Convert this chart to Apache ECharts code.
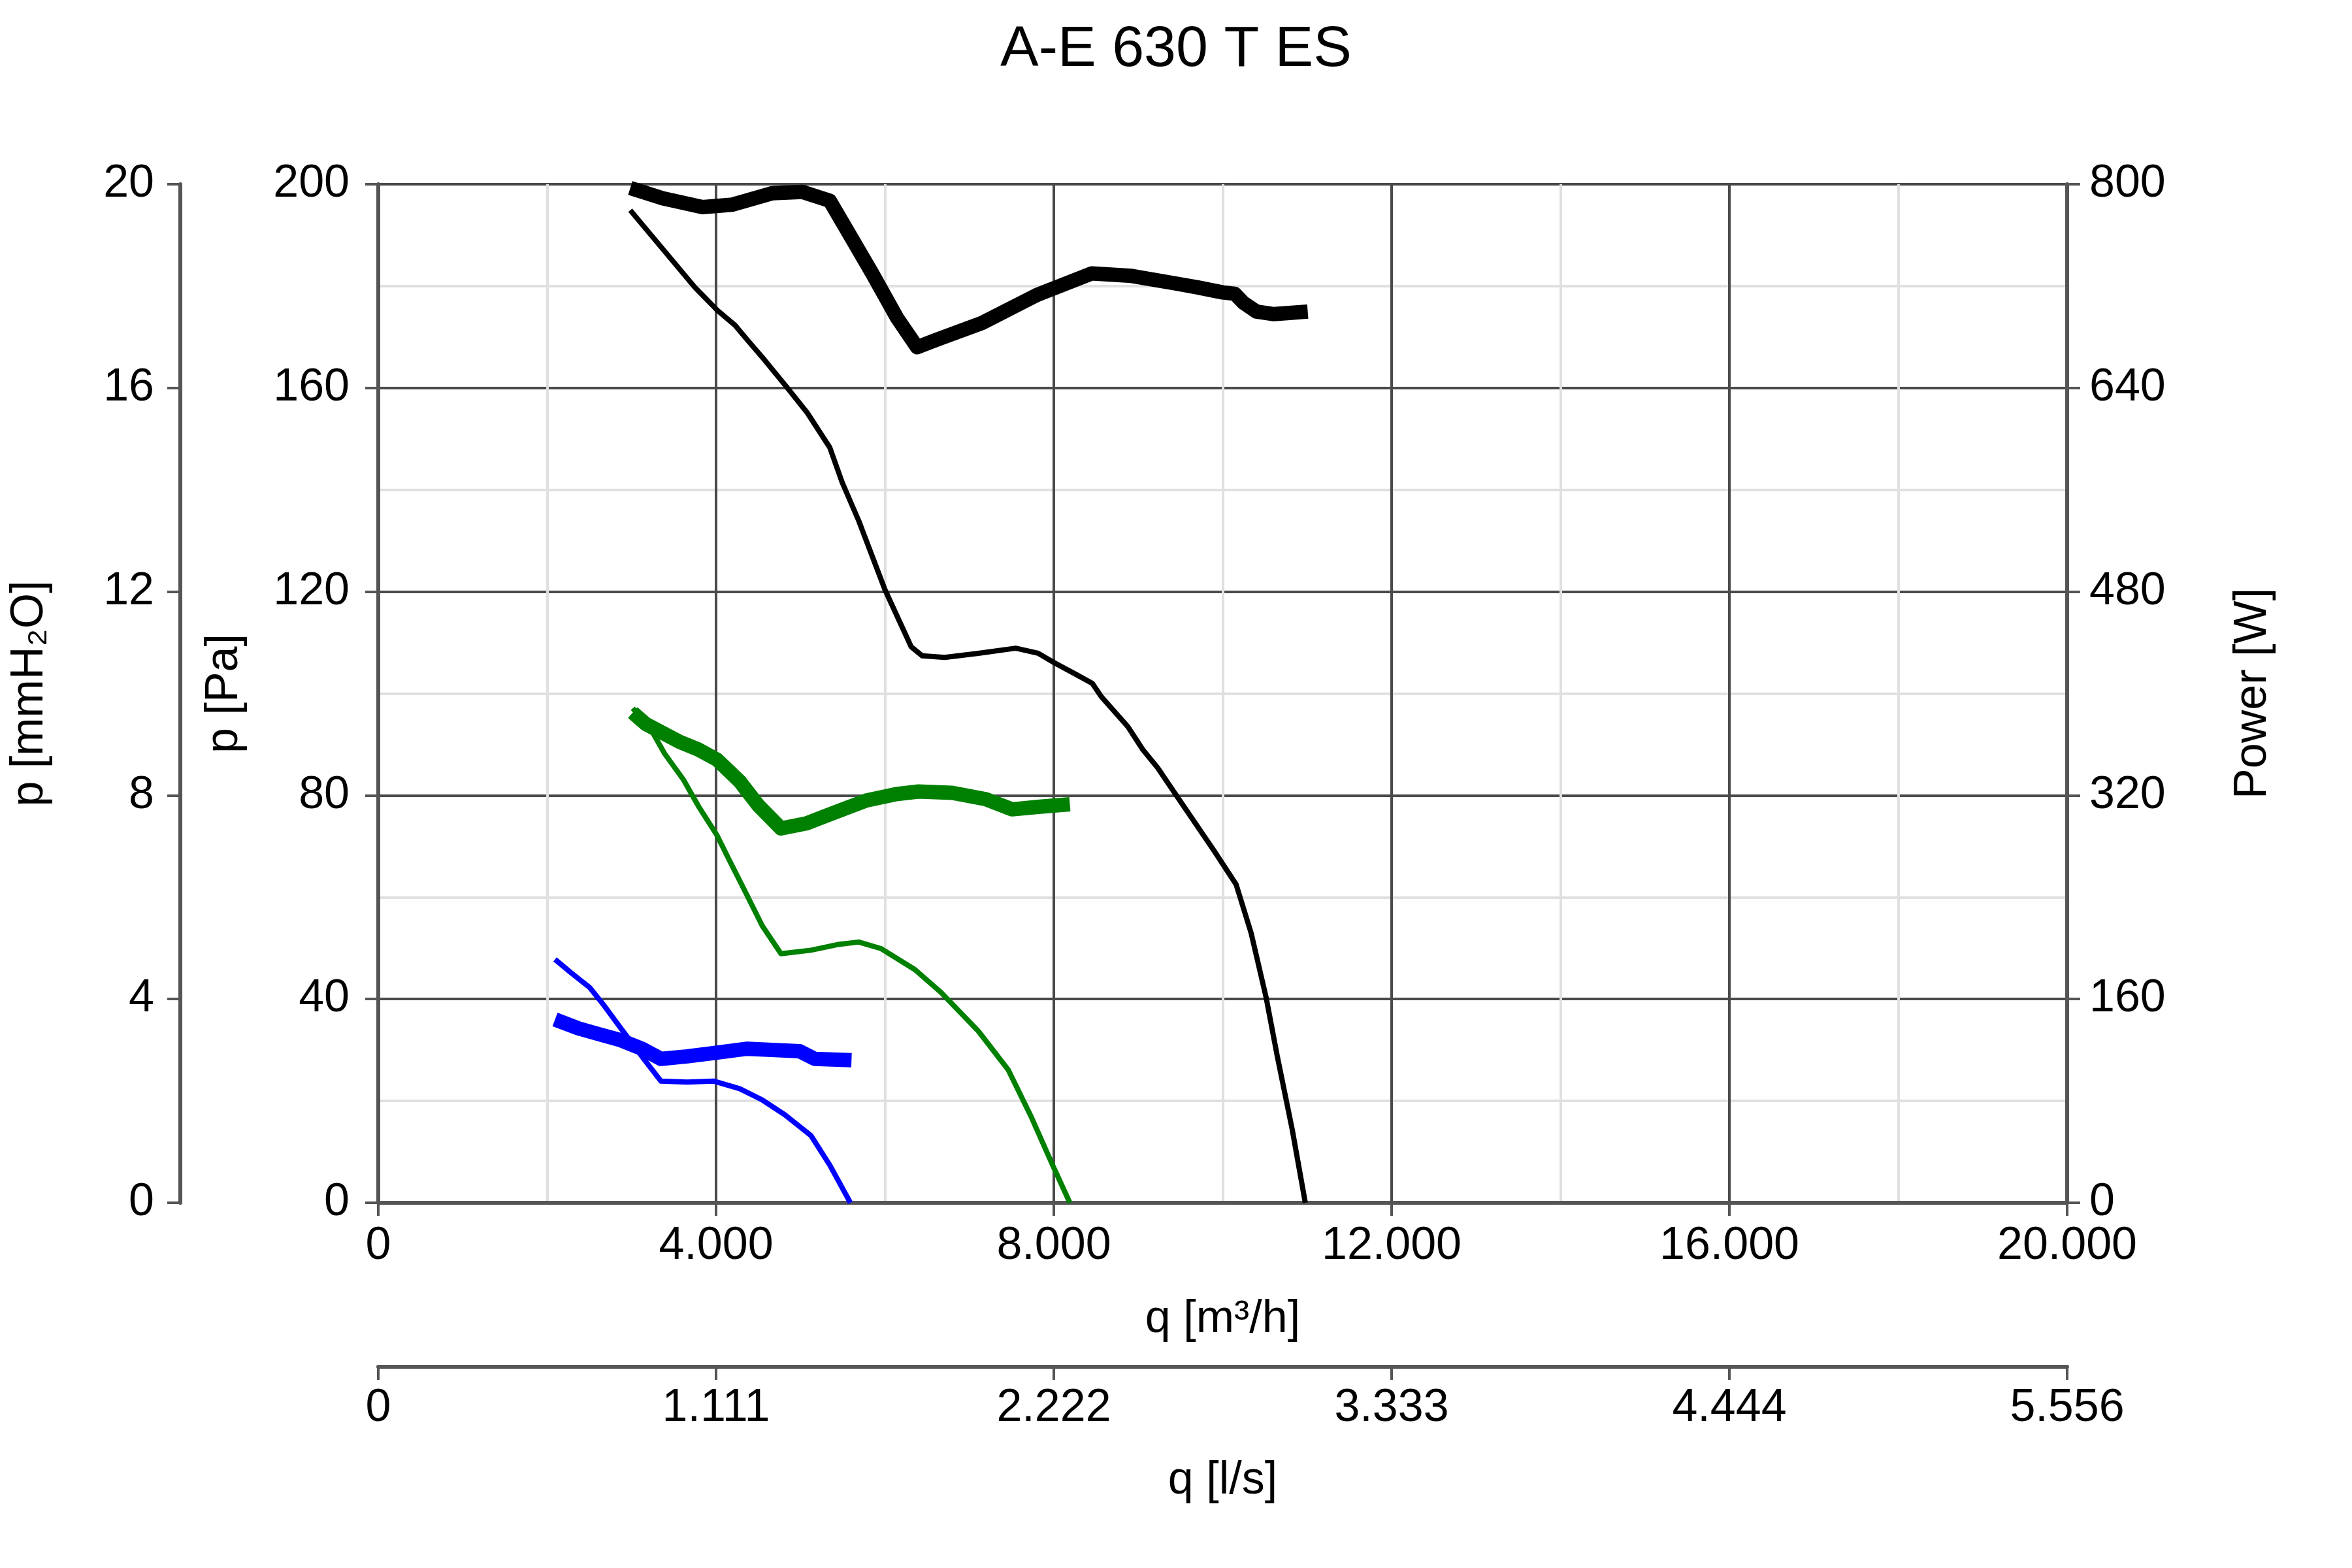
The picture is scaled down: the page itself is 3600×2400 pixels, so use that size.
<!DOCTYPE html>
<html>
<head>
<meta charset="utf-8">
<title>A-E 630 T ES</title>
<script src="https://cdn.jsdelivr.net/npm/echarts@6/dist/echarts.min.js"></script>
<style>
  html, body { margin: 0; padding: 0; background: #fff; }
  #chart { width: 3600px; height: 2400px; }
</style>
</head>
<body>
<div id="chart"></div>
<script>
// axis ticks
var qTicks = [0, 4000, 8000, 12000, 16000, 20000];
var paTicks = [0, 40, 80, 120, 160, 200];
var mmTicks = [0, 4, 8, 12, 16, 20];
var wTicks = [0, 160, 320, 480, 640, 800];

// black: pressure [Pa] (thin) and power [W] (thick)
var blackPQ = [2984, 3752, 4018, 4225, 4372, 4579, 4845, 5081, 5347, 5495, 5690, 6000, 6310, 6442, 6708, 7106, 7549, 7814, 8000, 8257, 8456, 8566, 8876, 9053, 9230, 9451, 9673, 9894, 10159, 10336, 10513, 10646, 10823, 10978];
var blackP  = [194.9, 179.7, 175.2, 172.3, 169.4, 165.4, 160.0, 155.1, 148.3, 141.4, 133.9, 120.4, 109.2, 107.4, 107.1, 107.9, 108.9, 107.9, 106.1, 103.8, 102.0, 99.3, 93.5, 89.0, 85.4, 80.0, 74.6, 69.2, 62.5, 53.0, 40.4, 28.8, 14.4, 0];
var blackWQ = [2984, 3368, 3840, 4195, 4668, 5022, 5347, 5550, 5849, 6144, 6381, 6617, 7149, 7799, 8449, 8922, 9447, 9702, 10001, 10143, 10244, 10399, 10607, 10816, 11007];
var blackW  = [797, 789, 782, 784, 793, 794, 787, 764, 730, 695, 672, 678, 691, 713, 730, 728, 722, 719, 715, 714, 707, 700, 698, 699, 700];

// green
var greenPQ = [3013, 3213, 3391, 3613, 3791, 4013, 4147, 4324, 4547, 4769, 5124, 5436, 5690, 5956, 6354, 6664, 7106, 7460, 7726, 7991, 8190];
var greenP  = [97.1, 93.4, 88.2, 83.1, 77.9, 72.1, 67.6, 61.8, 54.4, 48.9, 49.6, 50.7, 51.2, 49.9, 45.8, 41.3, 33.7, 26.1, 17.1, 7.2, 0];
var greenWQ = [3013, 3169, 3569, 3791, 4013, 4280, 4502, 4769, 5071, 5381, 5779, 6133, 6398, 6796, 7195, 7504, 7814, 8190];
var greenW  = [385, 376, 362, 356, 348, 331, 312, 294, 298, 306, 316, 321, 323, 322, 317, 309, 311, 313];

// blue
var bluePQ = [2093, 2280, 2502, 2680, 2858, 3124, 3347, 3658, 3969, 4280, 4547, 4813, 5124, 5347, 5591];
var blueP  = [47.8, 45.2, 42.3, 38.6, 34.6, 28.7, 23.9, 23.7, 23.9, 22.4, 20.2, 17.3, 13.2, 7.4, 0];
var blueWQ = [2093, 2369, 2636, 2858, 3124, 3347, 3658, 4013, 4369, 4991, 5169, 5604];
var blueW  = [144, 137, 132, 128, 121, 113, 115, 118, 121, 119, 113, 112];

function zip(a, b) {
    var out = [];
    for (var i = 0; i < a.length; i++) out.push([a[i], b[i]]);
    return out;
}
function step(t) { return t[1] - t[0]; }
function last(t) { return t[t.length - 1]; }

var FONT = 'Liberation Sans, Arial, sans-serif';
var AXIS = '#555';
var labelStyle = { color: '#000', fontSize: 70, fontFamily: FONT };
var nameStyle = { color: '#000', fontSize: 70, fontFamily: FONT };

function dotted(v) {
    // 4000 -> "4.000"
    var s = String(Math.round(v));
    return s.replace(/\B(?=(\d{3})+(?!\d))/g, '.');
}

function line(data, color, width, yIdx) {
    return {
        type: 'line',
        data: data,
        yAxisIndex: yIdx,
        xAxisIndex: 0,
        showSymbol: false,
        symbol: 'none',
        smooth: false,
        clip: true,
        lineStyle: { color: color, width: width, cap: 'butt', join: 'round' },
        z: 5
    };
}

var myChart = echarts.init(document.getElementById('chart'), null, { renderer: 'canvas' });

var option = {
    animation: false,
    backgroundColor: '#fff',
    title: {
        text: 'A-E 630 T ES',
        left: 'center',
        top: 28,
        textStyle: { color: '#000', fontSize: 88, fontWeight: 'normal', fontFamily: FONT }
    },
    grid: { left: 579, right: 436, top: 282, bottom: 559, containLabel: false },
    xAxis: [
        {
            type: 'value',
            position: 'bottom',
            min: qTicks[0], max: last(qTicks), interval: step(qTicks),
            name: 'q [m³/h]', nameLocation: 'middle', nameGap: 144,
            nameTextStyle: nameStyle,
            axisLine: { show: true, onZero: false, lineStyle: { color: AXIS, width: 6 } },
            axisTick: { show: true, length: 20, lineStyle: { color: AXIS, width: 4 } },
            axisLabel: Object.assign({ margin: 32, formatter: dotted }, labelStyle),
            splitLine: { show: true, lineStyle: { color: '#4a4a4a', width: 4 } },
            minorTick: { show: false, splitNumber: 2 },
            minorSplitLine: { show: true, lineStyle: { color: '#e0e0e0', width: 4 } }
        },
        {
            type: 'value',
            position: 'bottom',
            offset: 251,
            min: qTicks[0], max: last(qTicks), interval: step(qTicks),
            name: 'q [l/s]', nameLocation: 'middle', nameGap: 140,
            nameTextStyle: nameStyle,
            axisLine: { show: true, onZero: false, lineStyle: { color: AXIS, width: 6 } },
            axisTick: { show: true, length: 20, lineStyle: { color: AXIS, width: 4 } },
            axisLabel: Object.assign({
                margin: 29,
                formatter: function (v) { return v === 0 ? '0' : (v / 3600).toFixed(3); }
            }, labelStyle),
            splitLine: { show: false }
        }
    ],
    yAxis: [
        {
            type: 'value',
            position: 'left',
            min: paTicks[0], max: last(paTicks), interval: step(paTicks),
            name: 'p [Pa]', nameLocation: 'middle', nameGap: 200, nameRotate: 90,
            nameTextStyle: nameStyle,
            axisLine: { show: true, onZero: false, lineStyle: { color: AXIS, width: 6 } },
            axisTick: { show: true, length: 20, lineStyle: { color: AXIS, width: 4 } },
            axisLabel: Object.assign({ margin: 44 }, labelStyle),
            splitLine: { show: true, lineStyle: { color: '#4a4a4a', width: 4 } },
            minorTick: { show: false, splitNumber: 2 },
            minorSplitLine: { show: true, lineStyle: { color: '#e0e0e0', width: 4 } }
        },
        {
            type: 'value',
            position: 'left',
            offset: 303,
            min: mmTicks[0], max: last(mmTicks), interval: step(mmTicks),
            name: 'p [mmH₂O]', nameLocation: 'middle', nameGap: 195, nameRotate: 90,
            nameTextStyle: nameStyle,
            axisLine: { show: true, onZero: false, lineStyle: { color: AXIS, width: 6 } },
            axisTick: { show: true, length: 20, lineStyle: { color: AXIS, width: 4 } },
            axisLabel: Object.assign({ margin: 40 }, labelStyle),
            splitLine: { show: false }
        },
        {
            type: 'value',
            position: 'right',
            min: wTicks[0], max: last(wTicks), interval: step(wTicks),
            name: 'Power [W]', nameLocation: 'middle', nameGap: 250, nameRotate: 90,
            nameTextStyle: nameStyle,
            axisLine: { show: true, onZero: false, lineStyle: { color: AXIS, width: 6 } },
            axisTick: { show: true, length: 20, lineStyle: { color: AXIS, width: 4 } },
            axisLabel: Object.assign({ margin: 34 }, labelStyle),
            splitLine: { show: false }
        }
    ],
    series: [
        line(zip(blackPQ, blackP), '#000000', 8, 0),
        line(zip(blackWQ, blackW), '#000000', 22, 2),
        line(zip(greenPQ, greenP), '#008000', 8, 0),
        line(zip(greenWQ, greenW), '#008000', 22, 2),
        line(zip(bluePQ, blueP), '#0000ff', 8, 0),
        line(zip(blueWQ, blueW), '#0000ff', 22, 2)
    ]
};

myChart.setOption(option);
</script>
</body>
</html>
